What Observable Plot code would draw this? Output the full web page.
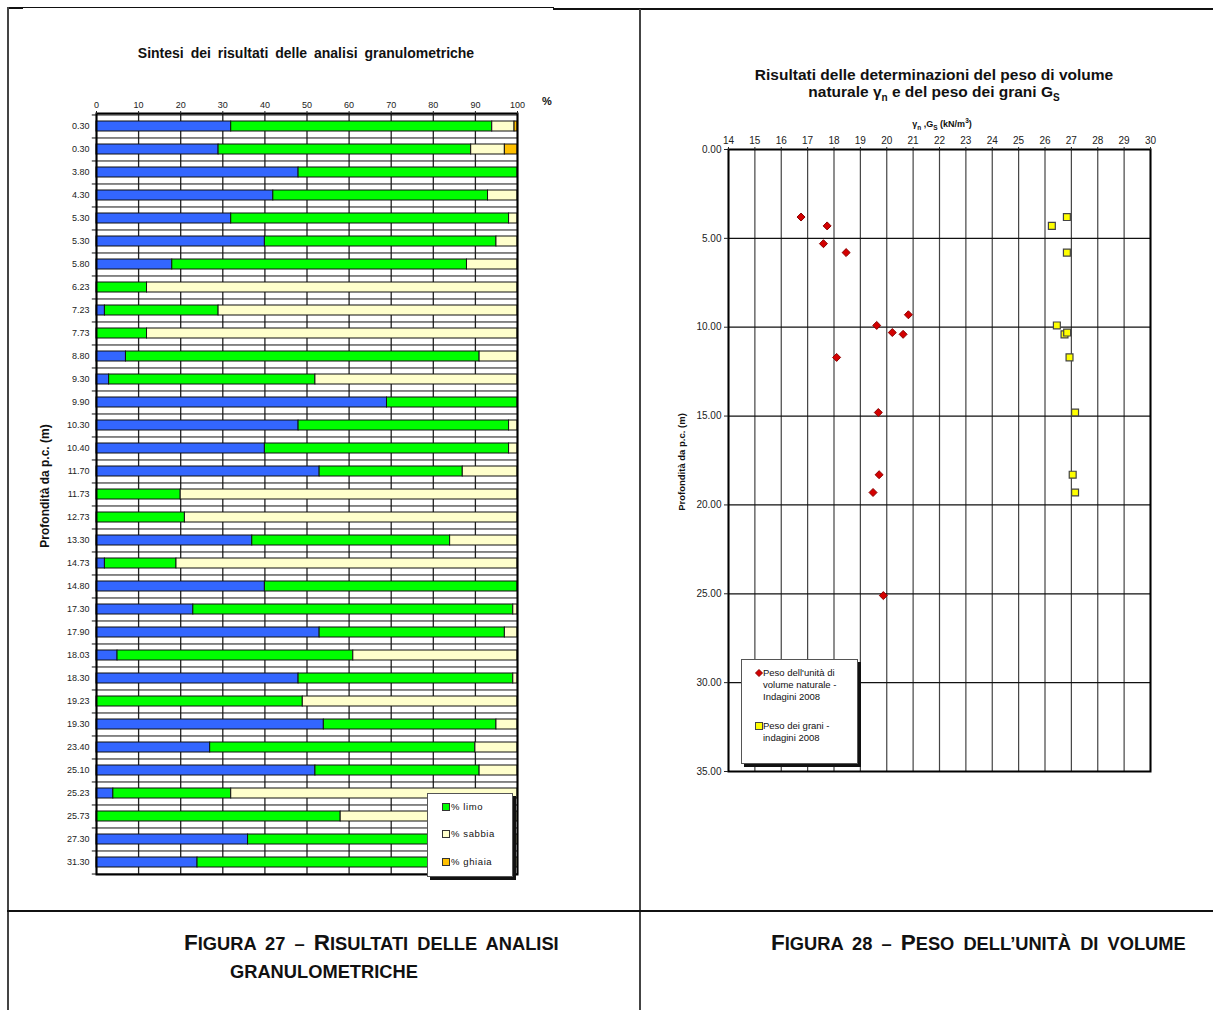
<!DOCTYPE html>
<html>
<head>
<meta charset="utf-8">
<script src="https://cdn.jsdelivr.net/npm/d3@7"></script>
<script src="https://cdn.jsdelivr.net/npm/@observablehq/plot@0.6"></script>
<style>
  html, body { margin: 0; padding: 0; background: #fff; }
  #page { position: relative; width: 1213px; height: 1010px; overflow: hidden; font-family: "Liberation Sans", Arial, sans-serif; color: #111; }
  .abs { position: absolute; white-space: nowrap; }
  .line { position: absolute; background: #111; }
  .c { transform: translate(-50%, -50%); }
  .legend { position: absolute; background: #fff; border: 1px solid #555; box-shadow: 3px 3px 0 #111; }
  .sw { position: absolute; width: 6px; height: 6px; border: 1px solid #333; }
  .cap { position: absolute; font-weight: bold; font-size: 18.3px; white-space: nowrap; color: #111; text-transform: uppercase; line-height: 24px; }
  .cap b { font-size: 22.5px; }
</style>
</head>
<body>
<div id="page">
  <!-- page frame lines -->
  <div class="line" style="left:7px; top:7px; width:547px; height:1px;"></div>
  <div class="line" style="left:7px; top:7px; width:16px; height:2px;"></div>
  <div class="line" style="left:553px; top:8px; width:660px; height:2px;"></div>
  <div class="line" style="left:7px; top:7px; width:2px; height:1003px; background:#444;"></div>
  <div class="line" style="left:639px; top:9px; width:2px; height:1001px; background:#444;"></div>
  <div class="line" style="left:7px; top:910px; width:1206px; height:2px;"></div>

  <div id="left" class="abs" style="left:0; top:0;"></div>
  <div id="right" class="abs" style="left:640px; top:0;"></div>

  <!-- left chart texts -->
  <div class="abs c" style="left:306px; top:53px; font-weight:bold; font-size:14px; word-spacing:3px;">Sintesi dei risultati delle analisi granulometriche</div>
  <div class="abs c" style="left:547px; top:101px; font-weight:bold; font-size:11px;">%</div>
  <div class="abs c" style="left:45px; top:486px; font-weight:bold; font-size:12px; transform: translate(-50%,-50%) rotate(-90deg);">Profondità da p.c. (m)</div>
  <div class="legend" style="left:427px; top:793px; width:84px; height:82px;"></div>
  <div class="sw" style="left:442px; top:803px; background:#00ff00;"></div>
  <div class="abs" style="left:451px; top:801px; font-size:9.5px; letter-spacing:0.6px;">% limo</div>
  <div class="sw" style="left:442px; top:830px; background:#ffffcc;"></div>
  <div class="abs" style="left:451px; top:828px; font-size:9.5px; letter-spacing:0.6px;">% sabbia</div>
  <div class="sw" style="left:442px; top:858px; background:#ffc000;"></div>
  <div class="abs" style="left:451px; top:856px; font-size:9.5px; letter-spacing:0.6px;">% ghiaia</div>

  <!-- right chart texts -->
  <div class="abs c" style="left:934px; top:83px; font-weight:bold; font-size:15.5px; line-height:17px; text-align:center;">Risultati delle determinazioni del peso di volume<br>naturale γ<sub style="font-size:10px; line-height:0;">n</sub> e del peso dei grani G<sub style="font-size:10px; line-height:0;">S</sub></div>
  <div class="abs c" style="left:942px; top:124px; font-weight:bold; font-size:9px;">γ<sub style="font-size:6.5px; line-height:0;">n</sub> ,G<sub style="font-size:6.5px; line-height:0;">S</sub> (kN/m<sup style="font-size:6.5px; line-height:0;">3</sup>)</div>
  <div class="abs c" style="left:681px; top:462px; font-weight:bold; font-size:9.5px; transform: translate(-50%,-50%) rotate(-90deg);">Profondità da p.c. (m)</div>
  <div class="legend" style="left:741px; top:659px; width:115px; height:103px;"></div>
  <svg class="abs" style="left:755px; top:669px;" width="8" height="8"><path d="M4,0.5L7.5,4L4,7.5L0.5,4Z" fill="#d40000" stroke="#8b0000"/></svg>
  <div class="abs" style="left:763px; top:667px; font-size:9.5px; line-height:12px;">Peso dell'unità di<br>volume naturale -<br>Indagini 2008</div>
  <div class="sw" style="left:755px; top:722px; background:#ffff00; border-color:#444;"></div>
  <div class="abs" style="left:763px; top:720px; font-size:9.5px; line-height:12px;">Peso dei grani -<br>indagini 2008</div>

  <!-- captions -->
  <div class="cap" style="left:184px; top:931px; word-spacing:4px;"><b>F</b>igura 27 – <b>R</b>isultati delle analisi</div>
  <div class="cap" style="left:230px; top:960px;">granulometriche</div>
  <div class="cap" style="left:771px; top:931px; word-spacing:4px;"><b>F</b>igura 28 – <b>P</b>eso dell’unità di volume</div>
</div>

<script>
// ---------- Left chart data (grain size analysis, %) ----------
const depthLabels = ["0.30","0.30","3.80","4.30","5.30","5.30","5.80","6.23","7.23","7.73","8.80","9.30","9.90","10.30","10.40","11.70","11.73","12.73","13.30","14.73","14.80","17.30","17.90","18.03","18.30","19.23","19.30","23.40","25.10","25.23","25.73","27.30","31.30"];
const argilla = [32,29,48,42,32,40,18,0,2,0,7,3,69,48,40,53,0,0,37,2,40,23,53,5,48,0,54,27,52,4,0,36,24];
const limo    = [62,60,52,51,66,55,70,12,27,12,84,49,31,50,58,34,20,21,47,17,60,76,44,56,51,49,41,63,39,28,58,61,72];
const sabbia  = [5.3,8,0,7,2,5,12,88,71,88,9,48,0,2,2,13,80,79,16,81,0,1,3,39,1,51,5,10,9,68,42,3,4];
const ghiaia  = [0.7,3,0,0,0,0,0,0,0,0,0,0,0,0,0,0,0,0,0,0,0,0,0,0,0,0,0,0,0,0,0,0,0];
const components = ["% argilla","% limo","% sabbia","% ghiaia"];
const componentColors = ["#3366ff","#00ff00","#ffffcc","#ffc000"];
const pctTicks = [0,10,20,30,40,50,60,70,80,90,100];

// ---------- Right chart data ----------
const gammaN_value = [16.75,17.74,17.6,18.46,19.62,20.21,20.62,20.82,18.10,19.68,19.71,19.48,19.87];
const gammaN_depth = [3.8,4.3,5.3,5.8,9.9,10.3,10.4,9.3,11.7,14.8,18.3,19.3,25.1];
const gs_value = [26.83,26.26,26.83,26.45,26.74,26.84,26.93,27.14,27.05,27.14];
const gs_depth = [3.8,4.3,5.8,9.9,10.4,10.3,11.7,14.8,18.3,19.3];
const xTicksRight = [14,15,16,17,18,19,20,21,22,23,24,25,26,27,28,29,30];
const yTicksRight = [0,5,10,15,20,25,30,35];

// ---------- Left chart ----------
const n = depthLabels.length;
const rows = [];
depthLabels.forEach((lab, i) => {
  [argilla[i], limo[i], sabbia[i], ghiaia[i]].forEach((v, k) => {
    if (v > 0) rows.push({i, comp: components[k], value: v});
  });
});
const idx = d3.range(n);
const LW = 640, LH = 900, LmT = 113, LmB = 26;
const step = (LH - LmT - LmB) / n;

const left = Plot.plot({
  width: LW, height: LH,
  marginLeft: 96, marginRight: 123, marginTop: LmT, marginBottom: LmB,
  style: {fontFamily: "Liberation Sans, Arial, sans-serif", fontSize: "9px", color: "#222", background: "transparent"},
  x: {domain: [0, 100]},
  y: {type: "band", domain: idx, paddingInner: 0.58, paddingOuter: 0.29},
  color: {domain: components, range: componentColors},
  marks: [
    Plot.ruleX(pctTicks, {stroke: "#222", strokeWidth: 1.3}),
    Plot.ruleY(idx, {y: d => d, dy: -step / 2, x1: -1, x2: 100, stroke: "#111", strokeWidth: 1}),
    Plot.ruleY([n - 1], {y: d => d, dy: step / 2, x1: -1, x2: 100, stroke: "#111", strokeWidth: 1}),
    Plot.barX(rows, Plot.stackX({x: "value", y: "i", fill: "comp", stroke: "#111", strokeWidth: 1})),
    Plot.frame({stroke: "#000", strokeWidth: 2}),
    Plot.axisX({anchor: "top", ticks: pctTicks, tickSize: 3, tickPadding: 3, label: null}),
    Plot.axisY({tickSize: 0, tickPadding: 7, tickFormat: i => depthLabels[i], label: null})
  ]
});
document.getElementById("left").appendChild(left);

// ---------- Right chart ----------
const gammaRows = gammaN_value.map((v, i) => ({v, d: gammaN_depth[i]}));
const gsRows = gs_value.map((v, i) => ({v, d: gs_depth[i]}));
const right = Plot.plot({
  width: 573, height: 800,
  marginLeft: 88, marginRight: 63, marginTop: 149, marginBottom: 29,
  style: {fontFamily: "Liberation Sans, Arial, sans-serif", fontSize: "10px", color: "#222", background: "transparent"},
  x: {domain: [14, 30]},
  y: {domain: [0, 35], reverse: true},
  marks: [
    Plot.ruleX(xTicksRight, {stroke: "#444", strokeWidth: 1.2}),
    Plot.ruleY(yTicksRight, {stroke: "#111", strokeWidth: 1.2}),
    Plot.frame({stroke: "#000", strokeWidth: 2}),
    Plot.dot(gammaRows, {x: "v", y: "d", symbol: "diamond2", r: 3.6, fill: "#d40000", stroke: "#8b0000", strokeWidth: 1}),
    Plot.dot(gsRows, {x: "v", y: "d", symbol: "square", r: 3.9, fill: "#ffff00", stroke: "#444", strokeWidth: 1.2}),
    Plot.axisX({anchor: "top", ticks: xTicksRight, tickSize: 3, tickPadding: 3, label: null}),
    Plot.axisY({ticks: yTicksRight, tickFormat: d => d.toFixed(2), tickSize: 4, tickPadding: 3, label: null})
  ]
});
document.getElementById("right").appendChild(right);
</script>
</body>
</html>
